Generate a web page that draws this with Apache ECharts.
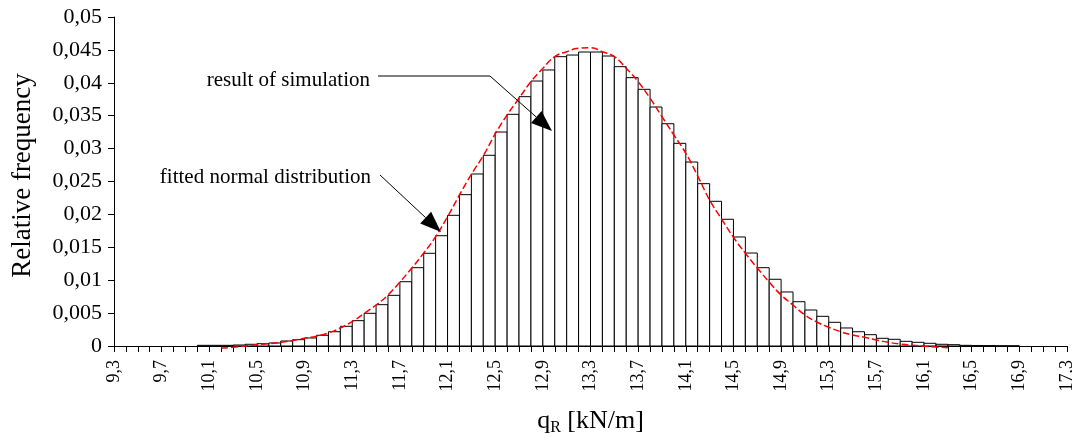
<!DOCTYPE html>
<html>
<head>
<meta charset="utf-8">
<script src="https://cdn.jsdelivr.net/npm/echarts@6.0.0/dist/echarts.min.js"></script>
<style>
  html, body { margin: 0; padding: 0; background: #fff; }
  #main { width: 1072px; height: 438px; }
</style>
</head>
<body>
<div id="main"></div>
<script>
// histogram bins (left edge, kN/m) and relative frequency
const binStart = [
  10.0, 10.1, 10.2, 10.3, 10.4, 10.5, 10.6, 10.7, 10.8, 10.9,
  11.0, 11.1, 11.2, 11.3, 11.4, 11.5, 11.6, 11.7, 11.8, 11.9,
  12.0, 12.1, 12.2, 12.3, 12.4, 12.5, 12.6, 12.7, 12.8, 12.9,
  13.0, 13.1, 13.2, 13.3, 13.4, 13.5, 13.6, 13.7, 13.8, 13.9,
  14.0, 14.1, 14.2, 14.3, 14.4, 14.5, 14.6, 14.7, 14.8, 14.9,
  15.0, 15.1, 15.2, 15.3, 15.4, 15.5, 15.6, 15.7, 15.8, 15.9,
  16.0, 16.1, 16.2, 16.3, 16.4, 16.5, 16.6, 16.7, 16.8
]
const barFreq = [
  0.0001, 0.0001, 0.0001, 0.00015, 0.00026, 0.00035, 0.00046, 0.00076, 0.00096, 0.00122,
  0.00163, 0.00217, 0.00299, 0.00385, 0.00497, 0.00628, 0.0077, 0.00977, 0.0119, 0.01409,
  0.01676, 0.01986, 0.0230, 0.02614, 0.02898, 0.03252, 0.03521, 0.03789, 0.04027, 0.04195,
  0.04397, 0.04422, 0.04468, 0.04468, 0.04407, 0.04245, 0.04078, 0.03901, 0.03632, 0.03378,
  0.0308, 0.02796, 0.02467, 0.02199, 0.01926, 0.01657, 0.01413, 0.0119, 0.01014, 0.00821,
  0.00673, 0.00547, 0.00451, 0.0036, 0.00274, 0.00217, 0.00172, 0.00117, 0.00102, 0.00071,
  0.00056, 0.00041, 0.00026, 0.0002, 0.0001, 0.00008, 0.00006, 0.00004, 0.00003
]
const binWidth = 0.1

// fitted normal distribution
const curveX = [
  10.2, 10.3, 10.4, 10.5, 10.6, 10.7, 10.8, 10.9,
  11.0, 11.1, 11.2, 11.3, 11.4, 11.5, 11.6, 11.7, 11.8, 11.9,
  12.0, 12.1, 12.2, 12.3, 12.4, 12.5, 12.6, 12.7, 12.8, 12.9,
  13.0, 13.1, 13.2, 13.3, 13.4, 13.5, 13.6, 13.7, 13.8, 13.9,
  14.0, 14.1, 14.2, 14.3, 14.4, 14.5, 14.6, 14.7, 14.8, 14.9,
  15.0, 15.1, 15.2, 15.3, 15.4, 15.5, 15.6, 15.7, 15.8, 15.9,
  16.0, 16.1, 16.2, 16.3
]
const curveFreq = [
  -0.0003, -0.0002, 0.0, 0.00018, 0.00035, 0.00058, 0.00084, 0.00117,
  0.00149, 0.00198, 0.00274, 0.00372, 0.00494, 0.00623, 0.00775, 0.00973, 0.01185, 0.01413,
  0.01661, 0.01965, 0.02295, 0.0261, 0.02892, 0.03222, 0.03511, 0.03765, 0.04017, 0.0422,
  0.04397, 0.04473, 0.04524, 0.04534, 0.04473, 0.04397, 0.0422, 0.04017, 0.03765, 0.03485,
  0.03207, 0.02929, 0.02584, 0.02219, 0.0193, 0.01652, 0.01409, 0.01185, 0.00973, 0.00775,
  0.00623, 0.00471, 0.00365, 0.00284, 0.00217, 0.00167, 0.00132, 0.00091, 0.00056, 0.0003,
  0.00011, -0.00005, -0.00015, -0.00025
]

// tick labels
const xTickLabels = ['9,3', '9,7', '10,1', '10,5', '10,9', '11,3', '11,7', '12,1', '12,5', '12,9',
  '13,3', '13,7', '14,1', '14,5', '14,9', '15,3', '15,7', '16,1', '16,5', '16,9', '17,3']
const yTickLabels = ['0', '0,005', '0,01', '0,015', '0,02', '0,025', '0,03', '0,035', '0,04', '0,045', '0,05']

const xMin = 9.3
// x axis runs in steps of 0.1 counted from 9.3, so ticks start exactly at 9,3
const toStep = v => Math.round((v - xMin) * 10 * 1000) / 1000

const barData = binStart.map((b, i) => [toStep(b), toStep(b + binWidth), barFreq[i]])
const curveData = curveX.map((x, i) => [toStep(x), curveFreq[i]])

const serif = 'Liberation Serif'

function arrowHead (tail, tip, len, halfW) {
  const dx = tip[0] - tail[0], dy = tip[1] - tail[1]
  const d = Math.sqrt(dx * dx + dy * dy)
  const ux = dx / d, uy = dy / d
  const bx = tip[0] - ux * len, by = tip[1] - uy * len
  return {
    base: [bx, by],
    points: [[bx - uy * halfW, by + ux * halfW], [bx + uy * halfW, by - ux * halfW], tip]
  }
}

const a1 = arrowHead([490, 76], [552, 131], 21, 8)
const a2 = arrowHead([380, 175], [441, 232], 21, 8)

const myChart = echarts.init(document.getElementById('main'))

const option = {
  animation: false,
  backgroundColor: '#fff',
  grid: { left: 114, right: 5, top: 17, bottom: 92, outerBoundsMode: 'none', containLabel: false },
  xAxis: {
    type: 'value',
    min: 0,
    max: 80,
    interval: 4,
    name: '{a|q}{s|R}{a| [kN/m]}',
    nameLocation: 'middle',
    nameGap: 60,
    nameTextStyle: {
      rich: {
        a: { fontFamily: serif, fontSize: 26, color: '#000', lineHeight: 30 },
        s: { fontFamily: serif, fontSize: 16, color: '#000', lineHeight: 14, verticalAlign: 'bottom' }
      }
    },
    axisLine: { lineStyle: { color: '#000', width: 1 } },
    axisTick: { show: true, length: 6, lineStyle: { color: '#000' } },
    minorTick: { show: true, splitNumber: 4, length: 6, lineStyle: { color: '#000' } },
    splitLine: { show: false },
    minorSplitLine: { show: false },
    axisLabel: {
      rotate: 90,
      margin: 14,
      fontFamily: serif,
      fontSize: 18,
      color: '#000',
      formatter: v => xTickLabels[Math.round(v / 4)]
    }
  },
  yAxis: {
    type: 'value',
    min: 0,
    max: 0.05,
    interval: 0.005,
    name: 'Relative frequency',
    nameLocation: 'middle',
    nameRotate: 90,
    nameGap: 78,
    nameTextStyle: { fontFamily: serif, fontSize: 27, color: '#000', padding: [0, 0, 0, 12] },
    axisLine: { show: true, lineStyle: { color: '#000', width: 1 } },
    axisTick: { show: true, length: 6, lineStyle: { color: '#000' } },
    splitLine: { show: false },
    axisLabel: {
      margin: 12,
      fontFamily: serif,
      fontSize: 22,
      color: '#000',
      formatter: v => yTickLabels[Math.round(v / 0.005)]
    }
  },
  series: [
    {
      name: 'result of simulation',
      type: 'custom',
      z: 2,
      data: barData,
      encode: { x: [0, 1], y: 2 },
      renderItem: function (params, api) {
        const p0 = api.coord([api.value(0), api.value(2)])
        const p1 = api.coord([api.value(1), 0])
        return {
          type: 'rect',
          shape: { x: p0[0], y: p0[1], width: p1[0] - p0[0], height: p1[1] - p0[1] },
          style: { fill: '#fff', stroke: '#000', lineWidth: 1 }
        }
      }
    },
    {
      name: 'fitted normal distribution',
      type: 'line',
      z: 3,
      data: curveData,
      smooth: true,
      clip: false,
      showSymbol: false,
      symbol: 'none',
      lineStyle: { color: '#ff0000', width: 1.5, type: [7, 3] }
    }
  ],
  graphic: [
    {
      type: 'text', z: 100,
      style: { text: 'result of simulation', x: 370, y: 80, font: '21px "Liberation Serif"', fill: '#000', textAlign: 'right', textVerticalAlign: 'middle' }
    },
    {
      type: 'polyline', z: 100,
      shape: { points: [[378, 76], [490, 76], a1.base] },
      style: { stroke: '#000', lineWidth: 1, fill: null }
    },
    { type: 'polygon', z: 100, shape: { points: a1.points }, style: { fill: '#000' } },
    {
      type: 'text', z: 100,
      style: { text: 'fitted normal distribution', x: 371, y: 177, font: '21px "Liberation Serif"', fill: '#000', textAlign: 'right', textVerticalAlign: 'middle' }
    },
    {
      type: 'line', z: 100,
      shape: { x1: 380, y1: 175, x2: a2.base[0], y2: a2.base[1] },
      style: { stroke: '#000', lineWidth: 1 }
    },
    { type: 'polygon', z: 100, shape: { points: a2.points }, style: { fill: '#000' } }
  ]
}

myChart.setOption(option)
</script>
</body>
</html>
